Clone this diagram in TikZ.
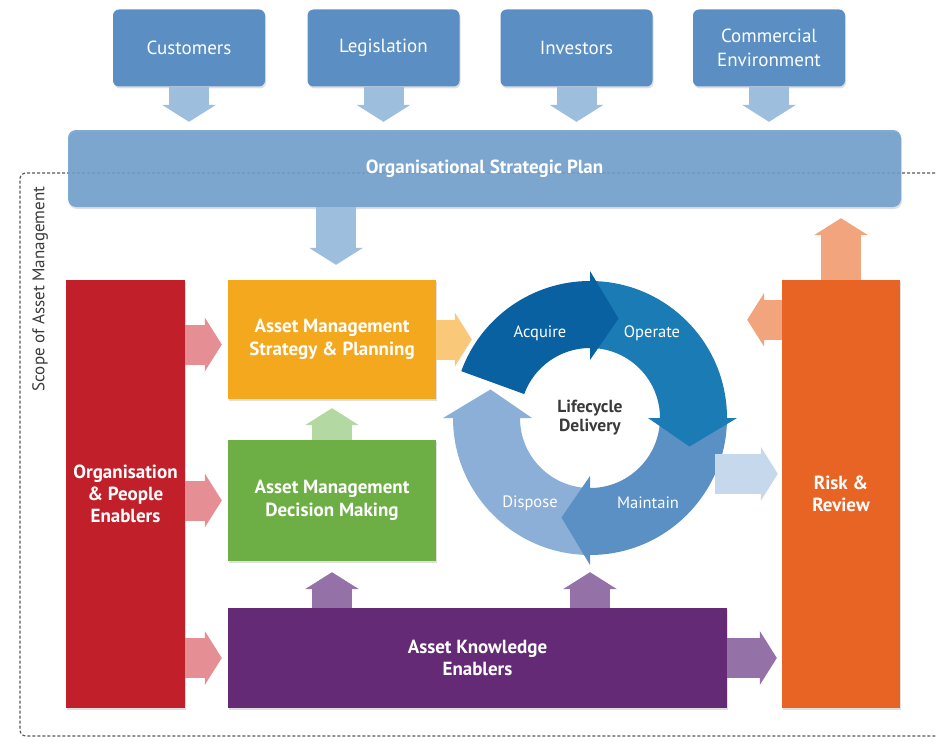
\documentclass[tikz,border=0pt]{standalone}
\usepackage{fontspec}
\setmainfont{PT Sans}
\usetikzlibrary{arrows.meta,shadows}

\definecolor{topblue}{HTML}{5B8FC3}
\definecolor{planblue}{HTML}{6F9FCB}
\definecolor{paleblue}{HTML}{9DBEDD}
\definecolor{orgred}{HTML}{C11F29}
\definecolor{redarrow}{HTML}{E58F94}
\definecolor{spyellow}{HTML}{F4A81D}
\definecolor{yelarrow}{HTML}{F9C979}
\definecolor{dmgreen}{HTML}{6DAF44}
\definecolor{grnarrow}{HTML}{B4D8A2}
\definecolor{akpurple}{HTML}{652A75}
\definecolor{purarrow}{HTML}{9471A6}
\definecolor{rrorange}{HTML}{E76425}
\definecolor{salmon}{HTML}{F2A47C}
\definecolor{cycarrow}{HTML}{C6D8EC}
\definecolor{acqblue}{HTML}{0961A1}
\definecolor{opeblue}{HTML}{1B7BB5}
\definecolor{maiblue}{HTML}{5B90C4}
\definecolor{disblue}{HTML}{8CAFD7}
\definecolor{textgray}{HTML}{3A3A3A}

\tikzset{
  softshadow/.style={drop shadow={opacity=.25,shadow xshift=1pt,shadow yshift=-2pt}},
  topbox/.style={fill=topblue,rounded corners=6pt,minimum width=152pt,minimum height=77pt,
    text=white,align=center,font=\fontsize{19}{24}\selectfont,softshadow},
  block/.style={fill=#1,inner sep=0pt,text=white,align=center,
    font=\fontsize{19}{22.5}\selectfont\bfseries,softshadow},
  fat/.style={draw=#1,line width=40pt,-{Triangle[width=54pt,length=17pt,line width=0pt]}},
  cyclab/.style={text=white,font=\fontsize{16.5}{18}\selectfont},
  scopeline/.style={draw=black!65,line width=1.2pt,dash pattern=on 3pt off 2pt,rounded corners=6pt},
}

% one coloured part of the lifecycle ring: colour, from, to
\newcommand\lifearc[3]{%
  \fill[#1] (#2:137) arc[start angle=#2,end angle=#3,radius=137]
    -- (#3:147) -- ({#3-16}:103.5) -- (#3:58) -- (#3:70)
    arc[start angle=#3,end angle=#2,radius=70] -- cycle;}

\begin{document}
\begin{tikzpicture}[x=1pt,y=-1pt]
\useasboundingbox (0,0) rectangle (936,741);

% scope of asset management
\draw[scopeline] (960,173) -- (20,173) -- (20,736) -- (960,736);
\node[rotate=90,text=textgray,font=\fontsize{17}{20}\selectfont] (scope) at (40,289) {Scope of Asset Management};

% external drivers
\node[topbox] (cust) at (189,48) {Customers};
\node[topbox] (legis) at (383.5,48) {Legislation};
\node[topbox] (inv) at (576.5,48) {Investors};
\node[topbox] (comm) at (769,48) {Commercial\\Environment};

\node[block=planblue,rounded corners=8pt,minimum width=833pt,minimum height=77pt,
  fill opacity=.88,text opacity=1] (plan) at (484.5,168.5) {Organisational Strategic Plan};

% main blocks
\node[block=orgred,minimum width=119pt,minimum height=428pt,font=\fontsize{19}{22}\selectfont\bfseries] (orgp) at (125.5,494) {Organisation\\\& People\\Enablers};
\node[block=spyellow,minimum width=208pt,minimum height=119pt] (sp) at (332,339.5) {Asset Management\\Strategy \& Planning};
\node[block=dmgreen,minimum width=208pt,minimum height=121pt] (dm) at (332,500.5) {Asset Management\\Decision Making};
\node[block=akpurple,minimum width=499pt,minimum height=100pt] (ake) at (477.5,658) {Asset Knowledge\\Enablers};
\node[block=rrorange,minimum width=118pt,minimum height=428pt] (rr) at (841,494) {Risk \&\\Review};

% lifecycle ring
\node[circle,inner sep=0pt,minimum size=274pt,text=textgray,align=center,
  font=\fontsize{17.5}{19}\selectfont\bfseries] (ring) at (590,418) {Lifecycle\\Delivery};
\begin{scope}[shift={(ring.center)},x=1pt,y=1pt]
\lifearc{disblue}{-90}{-180}
\lifearc{maiblue}{0}{-90}
\lifearc{opeblue}{90}{0}
\lifearc{acqblue}{160}{90}
\node[cyclab] (acq) at (-50,85) {Acquire};
\node[cyclab] (ope) at (62,85) {Operate};
\node[cyclab] (mai) at (58,-85) {Maintain};
\node[cyclab] (dis) at (-60,-85) {Dispose};
\end{scope}

% connectors
\foreach \n in {cust,legis,inv,comm}
  \draw[fat=paleblue,shorten >=8pt] (\n.south) -- (\n.south |- plan.north);
\draw[fat=paleblue,shorten >=15pt] ([xshift=4pt]plan.south -| sp.north) -- ([xshift=4pt]sp.north);
\draw[fat=redarrow,shorten >=6pt] ([yshift=-5pt]orgp.east |- sp.west) -- ([yshift=-5pt]sp.west);
\draw[fat=redarrow,shorten >=6pt] (orgp.east |- dm.west) -- (dm.west);
\draw[fat=redarrow,shorten >=6pt] (orgp.east |- ake.west) -- (ake.west);
\draw[fat=grnarrow,shorten >=9pt] (dm.north) -- (sp.south);
\draw[fat=purarrow,shorten >=11pt] (dm.south |- ake.north) -- (dm.south);
\draw[fat=purarrow,shorten >=17pt] (ring.south |- ake.north) -- (ring.south);
\draw[fat=purarrow,shorten >=5pt] (ake.east) -- (ake.east -| rr.west);
\draw[fat=yelarrow] (sp.east) -- ([xshift=19pt]sp.east -| ring.west);
\draw[fat=cycarrow,shorten >=4pt] (ring.-24.6) -- (ring.-24.6 -| rr.west);
\draw[fat=salmon,shorten >=20pt] ([yshift=-40pt]rr.north west) -- ([yshift=-40pt]rr.north west -| ring.east);
\draw[fat=salmon,shorten >=11pt] (rr.north) -- (rr.north |- plan.south);
\end{tikzpicture}
\end{document}
